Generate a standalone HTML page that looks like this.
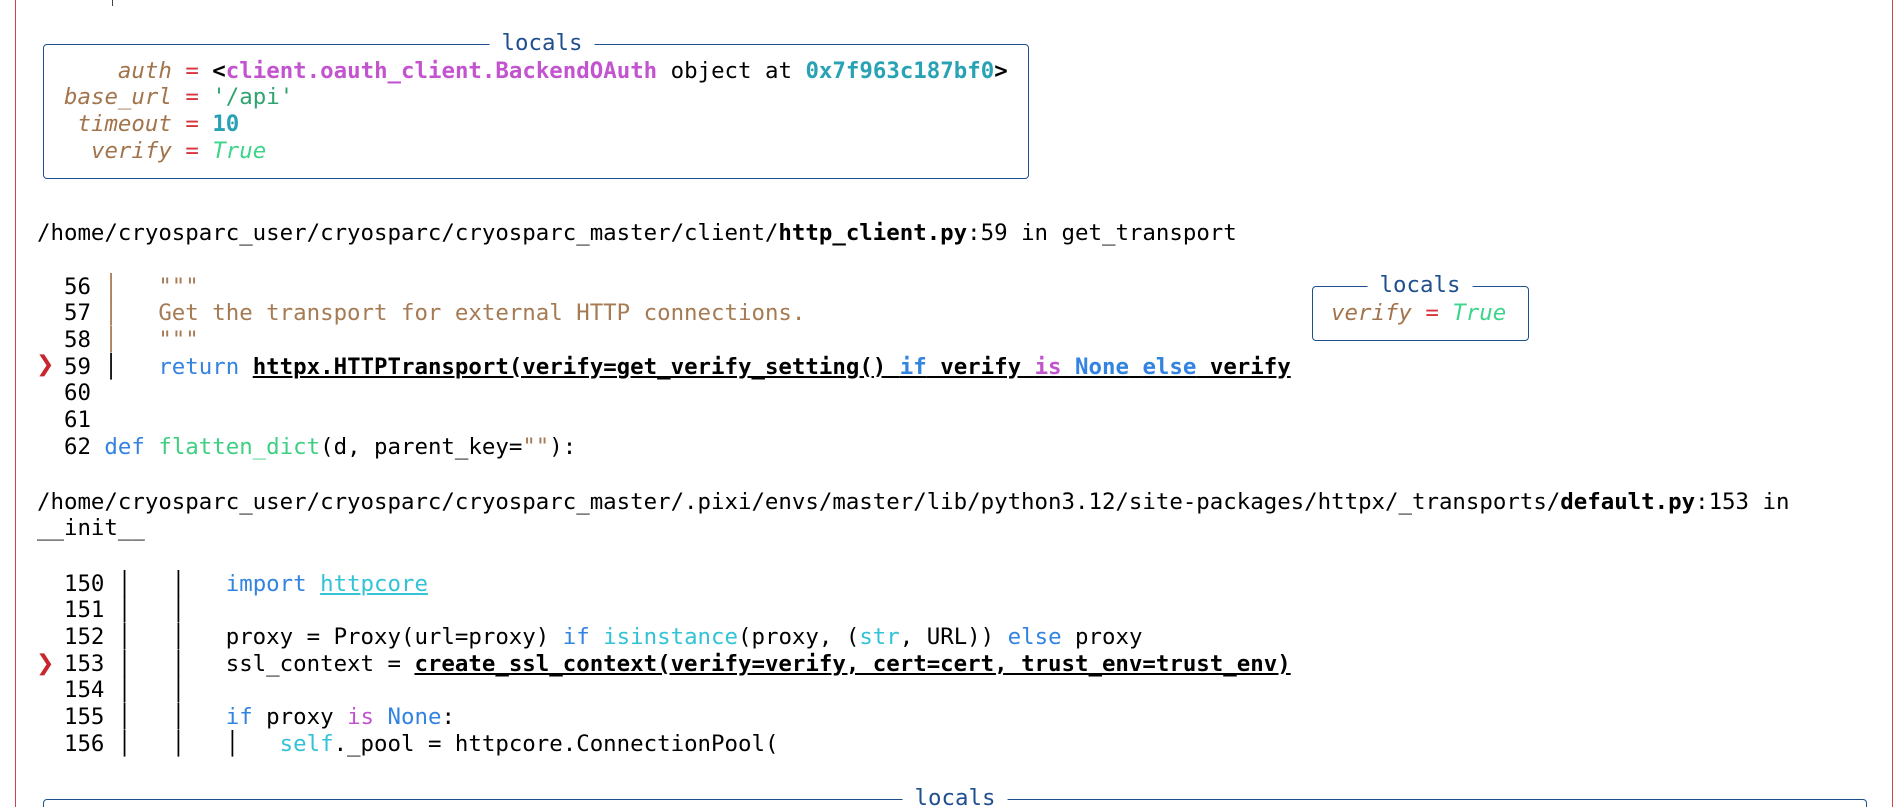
<!DOCTYPE html>
<html><head><meta charset="utf-8"><style>
html,body{margin:0;padding:0;background:#fff;width:1902px;height:807px;overflow:hidden;position:relative}
.m{font-family:"DejaVu Sans Mono","Liberation Mono",monospace;font-size:22.4px;line-height:26.69px;white-space:pre;position:absolute;margin:0;color:#000}
.box{position:absolute;border:1.6px solid #1f4f8e;border-radius:4px}
.t{position:absolute;background:#fff;color:#1f4f8e;padding:0 12px;font-family:"DejaVu Sans Mono",monospace;font-size:22.4px;line-height:26px;transform:translate(-50%,-50%)}
.n{color:#a2744c;font-style:italic}.e{color:#d6343c}.mg{color:#c354cf;font-weight:bold}.cy{color:#28a2b4;font-weight:bold}
.s{color:#2fa46e}.tr{color:#3ed48a;font-style:italic}.d{color:#a67a52}.k{color:#3383e0}.f{color:#3fcf83}.b{color:#33c3d6}.p{color:#c354cf}
.u{text-decoration:underline;font-weight:bold}
.mk{position:absolute;color:#c8262e;font-family:"DejaVu Sans",sans-serif;font-size:22px;font-weight:bold}
</style></head><body>
<div style="position:absolute;left:15px;top:0;width:1876px;height:807px;border-left:1.5px solid #c9454c;border-right:1.5px solid #c9454c"></div>
<div style="position:absolute;left:112px;top:0;width:1px;height:6px;background:#444"></div>

<div class="box" style="left:43px;top:44px;width:984px;height:133px"></div>
<div class="t" style="left:542px;top:43px">locals</div>
<pre class="m" style="left:64px;top:57.5px">    <span class="n">auth</span> <span class="e">=</span> <b>&lt;</b><span class="mg">client.oauth_client.BackendOAuth</span> object at <span class="cy">0x7f963c187bf0</span><b>&gt;</b>
<span class="n">base_url</span> <span class="e">=</span> <span class="s">'/api'</span>
 <span class="n">timeout</span> <span class="e">=</span> <span class="cy">10</span>
  <span class="n">verify</span> <span class="e">=</span> <span class="tr">True</span></pre>

<pre class="m" style="left:37px;top:219.5px">/home/cryosparc_user/cryosparc/cryosparc_master/client/<b>http_client.py</b>:59 in get_transport</pre>

<pre class="m" style="left:37px;top:273.5px">  56 <span class="d">│   """</span>
  57 <span class="d">│   Get the transport for external HTTP connections.</span>
  58 <span class="d">│   """</span>
  59 │   <span class="k">return</span> <span class="u">httpx.HTTPTransport(verify=get_verify_setting() <span class="k">if</span> verify <span class="p">is</span> <span class="k">None</span> <span class="k">else</span> verify</span>
  60
  61
  62 <span class="k">def</span> <span class="f">flatten_dict</span>(d, parent_key=<span class="d">""</span>):</pre>
<div class="mk" style="left:36px;top:351.5px">❯</div>

<div class="box" style="left:1312px;top:286px;width:215px;height:53px"></div>
<div class="t" style="left:1420px;top:285px">locals</div>
<pre class="m" style="left:1331px;top:300px"><span class="n">verify</span> <span class="e">=</span> <span class="tr">True</span></pre>

<pre class="m" style="left:37px;top:488.5px">/home/cryosparc_user/cryosparc/cryosparc_master/.pixi/envs/master/lib/python3.12/site-packages/httpx/_transports/<b>default.py</b>:153 in
__init__</pre>

<pre class="m" style="left:37px;top:570.5px">  150 │   │   <span class="k">import</span> <span class="b" style="text-decoration:underline">httpcore</span>
  151 │   │
  152 │   │   proxy = Proxy(url=proxy) <span class="k">if</span> <span class="b">isinstance</span>(proxy, (<span class="b">str</span>, URL)) <span class="k">else</span> proxy
  153 │   │   ssl_context = <span class="u">create_ssl_context(verify=verify, cert=cert, trust_env=trust_env)</span>
  154 │   │
  155 │   │   <span class="k">if</span> proxy <span class="p">is</span> <span class="k">None</span>:
  156 │   │   │   <span class="b">self</span>._pool = httpcore.ConnectionPool(</pre>
<div class="mk" style="left:36px;top:650.5px">❯</div>

<div class="box" style="left:43px;top:799px;width:1822px;height:40px"></div>
<div class="t" style="left:955px;top:798px">locals</div>
</body></html>
